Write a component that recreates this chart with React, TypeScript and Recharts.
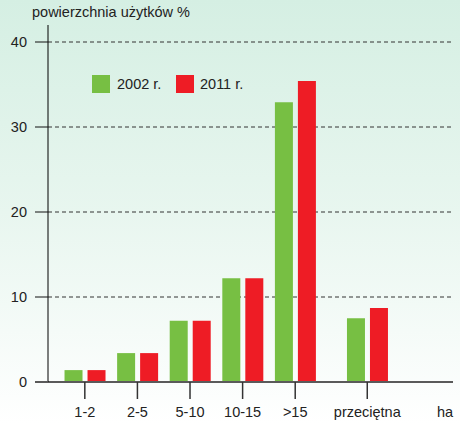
import { BarChart, Bar, XAxis, YAxis, CartesianGrid } from 'recharts';

const categories = ['1-2', '2-5', '5-10', '10-15', '>15', 'przeciętna'];
const values2002 = [1.4, 3.4, 7.2, 12.2, 32.9, 7.5];
const values2011 = [1.4, 3.4, 7.2, 12.2, 35.4, 8.7];
const yTicks = [0, 10, 20, 30, 40];
const gridValues = [10, 20, 30, 40];
const unitLabel = 'ha';

// where each group sits on the numeric x axis (the average is set apart)
const slotPos = [1, 2, 3, 4, 5, 6.37];
const unitPos = 7.85;

const data = categories.map((c, i) => ({
  pos: slotPos[i],
  label: c,
  v2002: values2002[i],
  v2011: values2011[i],
}));

const GREEN = '#77bf43';
const RED = '#ee1c25';
const FONT = '"Liberation Sans", Arial, sans-serif';
const TEXT = '#222';

const XTick = (props: any) => {
  const { x, y, index } = props;
  const labels = [...categories, unitLabel];
  const label = labels[index];
  return (
    <g>
      {label !== unitLabel && (
        <line x1={x} x2={x} y1={y - 23} y2={y - 6} stroke="#333" strokeWidth={1.5} />
      )}
      <text x={x} y={y + 12} textAnchor="middle" fill={TEXT} fontSize={14.5} fontFamily={FONT}>
        {label}
      </text>
    </g>
  );
};

const YTick = (props: any) => {
  const { x, y, payload } = props;
  const isZero = payload.value === 0;
  return (
    <g>
      <line
        x1={x + 8}
        x2={x + 21}
        y1={y}
        y2={y}
        stroke={isZero ? '#5a5a5a' : '#111'}
        strokeWidth={isZero ? 2 : 1}
      />
      <text x={x} y={y + 5} textAnchor="end" fill={TEXT} fontSize={14.5} fontFamily={FONT}>
        {payload.value}
      </text>
    </g>
  );
};

export default function App() {
  return (
    <div
      style={{
        position: 'absolute',
        left: 0,
        top: 0,
        width: 460,
        height: 424,
        background: 'linear-gradient(to bottom, #d5efe3 0%, #e8f6ef 50%, #ffffff 100%)',
        fontFamily: FONT,
        color: TEXT,
      }}
    >
      <div style={{ position: 'absolute', left: 32, top: 4, fontSize: 14.5 }}>powierzchnia użytków %</div>

      <div style={{ position: 'absolute', left: 92, top: 75, width: 18, height: 18, background: GREEN }} />
      <div style={{ position: 'absolute', left: 117, top: 75, fontSize: 14.5, lineHeight: '18px' }}>2002 r.</div>
      <div style={{ position: 'absolute', left: 176, top: 75, width: 18, height: 18, background: RED }} />
      <div style={{ position: 'absolute', left: 200, top: 75, fontSize: 14.5, lineHeight: '18px' }}>2011 r.</div>

      <BarChart
        width={460}
        height={424}
        data={data}
        margin={{ top: 25, right: 7, bottom: 12, left: 0 }}
        barSize={18}
        barGap={5}
        style={{ position: 'absolute', left: 0, top: 0 }}
      >
        <CartesianGrid
          vertical={false}
          horizontal
          horizontalValues={gridValues}
          stroke="#333"
          strokeDasharray="4 3"
        />
        <XAxis
          type="number"
          dataKey="pos"
          domain={[0.3, 8]}
          ticks={[...slotPos, unitPos]}
          interval={0}
          height={30}
          tickSize={17}
          tickMargin={6}
          tickLine={false}
          axisLine={{ stroke: '#5a5a5a', strokeWidth: 2 }}
          tick={<XTick />}
        />
        <YAxis
          type="number"
          domain={[0, 42]}
          ticks={yTicks}
          interval={0}
          width={48}
          tickSize={13}
          tickMargin={8}
          tickLine={false}
          axisLine={{ stroke: '#000', strokeWidth: 1 }}
          tick={<YTick />}
        />
        <Bar dataKey="v2002" fill={GREEN} isAnimationActive={false} />
        <Bar dataKey="v2011" fill={RED} isAnimationActive={false} />
      </BarChart>
    </div>
  );
}
